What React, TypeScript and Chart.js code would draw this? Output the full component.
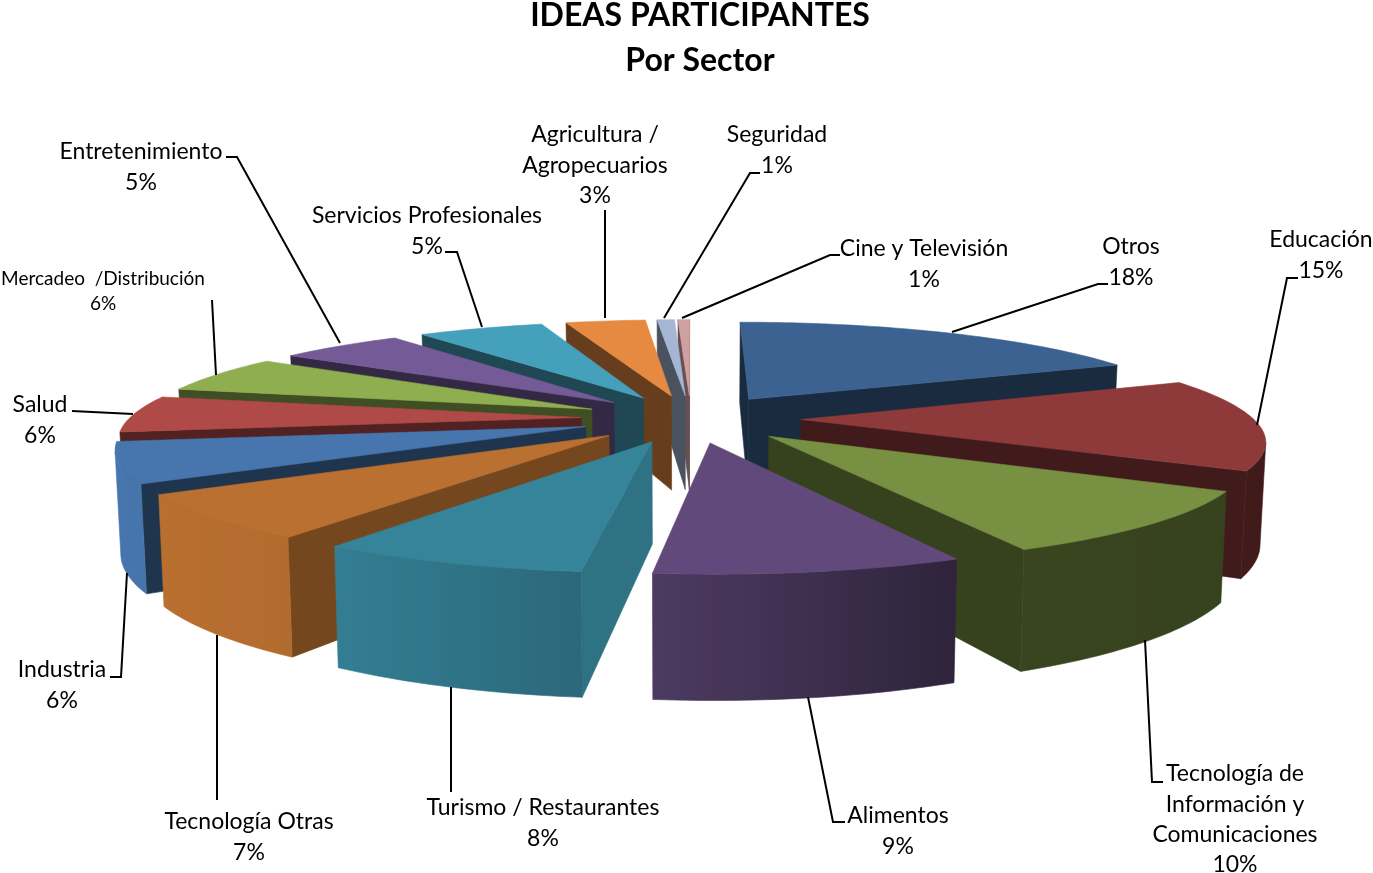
import React, { useEffect, useRef } from "react";
import { Chart, registerables } from "chart.js";
Chart.register(...registerables);

const sectors = ["Otros","Educación","Tecnología de Información y Comunicaciones","Alimentos","Turismo / Restaurantes","Tecnología Otras","Industria","Salud","Mercadeo /Distribución","Entretenimiento","Servicios Profesionales","Agricultura / Agropecuarios","Seguridad","Cine y Televisión"];
const shares = [18.35,14.65,10,8.7,7.65,7,6.35,5.85,5.95,5.35,5.45,3.45,0.75,0.5];
const topColors = ["#3C6291","#8E3A3A","#779041","#614A7B","#36849A","#BA7030","#4776AE","#B04A48","#8FAE50","#745A96","#45A0BB","#E58A40","#A5B6D3","#CFA0A0"];
const radialShade = [0.44,0.46,0.45,0.45,0.86,0.63,0.44,0.46,0.45,0.45,0.45,0.45,0.45,0.5];

const labelLines = [["Otros","18%"],["Educación","15%"],["Tecnología de","Información y","Comunicaciones","10%"],["Alimentos","9%"],["Turismo / Restaurantes","8%"],["Tecnología Otras","7%"],["Industria","6%"],["Salud","6%"],["Mercadeo  /Distribución","6%"],["Entretenimiento","5%"],["Servicios Profesionales","5%"],["Agricultura /","Agropecuarios","3%"],["Seguridad","1%"],["Cine y Televisión","1%"]];
const labelCentre = [[1131,247],[1321,240],[1235,774],[898,816],[543,808],[249,822],[62,670],[40,405],[103,279],[141,152],[427,216],[595,135],[777,135],[924,249]];
const leaders = [
  [[952,332],[1098,284],[1108,284]],
  [[1257,425],[1287,278],[1298,278]],
  [[1145,640],[1152,782],[1163,782]],
  [[808,697],[833,822],[845,822]],
  [[451,687],[451,792]],
  [[217,635],[217,800]],
  [[127,573],[121,677],[110,677]],
  [[133,414],[72,411]],
  [[216,375],[212,300]],
  [[340,343],[237,157],[226,157]],
  [[482,327],[457,252],[445,252]],
  [[605,318],[605,210]],
  [[664,318],[750,173],[760,173]],
  [[682,318],[830,255],[840,255]],
];

const VIEW = { cx: 691, cy: 418.5, R: 452, E: 110, K: 0.0004, B: 0.2155, H: 98 };

function shade(hex: string, f: number) {
  const n = parseInt(hex.slice(1), 16);
  const c = [(n >> 16) & 255, (n >> 8) & 255, n & 255].map((v) => Math.round(v * f));
  return `rgb(${c[0]},${c[1]},${c[2]})`;
}
const lightStops = [[-1,1],[-0.6,0.97],[-0.125,0.8],[0.426,0.48],[1,0.45]];
function light(n: number) {
  for (let i = 1; i < lightStops.length; i++) {
    if (n <= lightStops[i][0]) {
      const [a, fa] = lightStops[i - 1], [b, fb] = lightStops[i];
      return fa + ((fb - fa) * (n - a)) / (b - a);
    }
  }
  return 0.45;
}
function project(X: number, Y: number, drop: boolean) {
  const s = 1 / (1 - VIEW.K * Y);
  const x = VIEW.cx + X * s;
  const y = VIEW.cy + Y * VIEW.B * s;
  if (!drop) return [x, y];
  return [VIEW.cx + (x - VIEW.cx) * 0.99, y + VIEW.H * s];
}
function poly(ctx: CanvasRenderingContext2D, pts: number[][], color: any) {
  ctx.beginPath();
  pts.forEach((p, i) => (i ? ctx.lineTo(p[0], p[1]) : ctx.moveTo(p[0], p[1])));
  ctx.closePath();
  ctx.fillStyle = color;
  ctx.strokeStyle = color;
  ctx.lineWidth = 0.6;
  ctx.fill();
  ctx.stroke();
}
const eyeY = 1 / VIEW.K;
function facing(nx: number, ny: number, px: number, py: number) {
  return nx * (0 - px) + ny * (eyeY - py) > 0;
}

const pie3d = {
  id: "pie3d",
  beforeDatasetsDraw(chart: any) {
    const ctx: CanvasRenderingContext2D = chart.ctx;
    const arcs = chart.getDatasetMeta(0).data;
    const order = arcs.map((_: any, i: number) => i).sort((p: number, q: number) => {
      const m = (a: any) => Math.sin((a.startAngle + a.endAngle) / 2);
      return m(arcs[p]) - m(arcs[q]);
    });
    for (const i of order) {
      const a0 = arcs[i].startAngle, a1 = arcs[i].endAngle, m = (a0 + a1) / 2;
      const col = topColors[i];
      const ax = VIEW.E * Math.cos(m), ay = VIEW.E * Math.sin(m);
      const n = Math.max(2, Math.ceil((a1 - a0) / 0.02));
      const rim: number[][] = [];
      for (let k = 0; k <= n; k++) {
        const t = a0 + ((a1 - a0) * k) / n;
        rim.push([ax + VIEW.R * Math.cos(t), ay + VIEW.R * Math.sin(t), t]);
      }
      const wall = (c: number[], nx: number, ny: number) => {
        if (facing(nx, ny, ax, ay))
          poly(ctx, [project(ax, ay, false), project(c[0], c[1], false), project(c[0], c[1], true), project(ax, ay, true)], shade(col, radialShade[i]));
      };
      wall(rim[0], Math.sin(a0), -Math.cos(a0));
      wall(rim[n], -Math.sin(a1), Math.cos(a1));
      const front = rim.filter((p) => facing(Math.cos(p[2]), Math.sin(p[2]), p[0], p[1]));
      if (front.length > 1) {
        const tops = front.map((p) => project(p[0], p[1], false));
        const bots = front.map((p) => project(p[0], p[1], true));
        const xs = tops.map((p) => p[0]);
        const x0 = Math.min(...xs), x1 = Math.max(...xs);
        const g = ctx.createLinearGradient(x0, 0, x1, 0);
        front
          .map((p, k) => ({ o: (xs[k] - x0) / Math.max(1, x1 - x0), c: shade(col, light(Math.cos(p[2]))) }))
          .sort((u, v) => u.o - v.o)
          .forEach((s) => g.addColorStop(s.o, s.c));
        poly(ctx, [...tops, ...bots.reverse()], g);
      }
      poly(ctx, [project(ax, ay, false), ...rim.map((p) => project(p[0], p[1], false))], col);
    }
    // leader lines and labels
    ctx.strokeStyle = "#000";
    ctx.lineWidth = 2;
    ctx.lineJoin = "miter";
    leaders.forEach((l) => {
      ctx.beginPath();
      l.forEach((p, i) => (i ? ctx.lineTo(p[0], p[1]) : ctx.moveTo(p[0], p[1])));
      ctx.stroke();
    });
    ctx.fillStyle = "#000";
    ctx.textAlign = "center";
    ctx.textBaseline = "middle";
    labelLines.forEach((lines, i) => {
      const small = i === 8;
      ctx.font = `${small ? 19 : 23}px Lato`;
      lines.forEach((t, j) => ctx.fillText(t, labelCentre[i][0], labelCentre[i][1] + j * (small ? 25 : 30.3)));
    });
    return false;
  },
};

export default function App() {
  const ref = useRef<HTMLCanvasElement>(null);
  useEffect(() => {
    document.body.style.margin = "0";
    const chart = new Chart(ref.current!, {
      type: "pie",
      data: { labels: sectors, datasets: [{ data: shares, backgroundColor: topColors }] },
      options: {
        responsive: false,
        animation: false,
        devicePixelRatio: 1,
        layout: { padding: { left: 27 } },
        plugins: {
          legend: { display: false },
          tooltip: { enabled: false },
          title: {
            display: true,
            text: ["IDEAS PARTICIPANTES", "Por Sector"],
            color: "#000",
            font: { family: "Lato", size: 32, weight: "bold", lineHeight: 1.38 },
            padding: { top: -6, bottom: 0 },
          },
        },
      },
      plugins: [pie3d],
    } as any);
    return () => chart.destroy();
  }, []);
  return <canvas ref={ref} width={1373} height={873} style={{ display: "block" }} />;
}
